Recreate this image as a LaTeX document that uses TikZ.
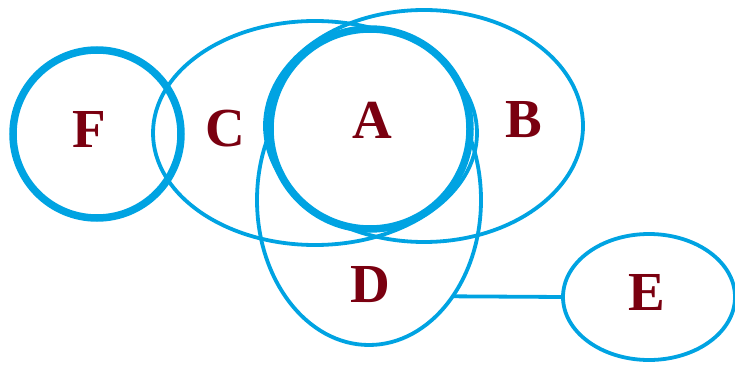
\documentclass[tikz,border=0pt]{standalone}
\usepackage{fontspec}
\setmainfont{Liberation Serif}
\usetikzlibrary{shapes.geometric}
\definecolor{setblue}{HTML}{00A3E2}
\definecolor{setred}{HTML}{7A0010}
\tikzset{
  setline/.style={draw=setblue, line width=3.8pt, ellipse, inner sep=0pt, outer sep=0pt},
  thickset/.style={setline, line width=7.5pt},
  lab/.style={text=setred, font=\fontsize{55}{55}\selectfont\bfseries, inner sep=0pt, anchor=center}
}
\begin{document}
\begin{tikzpicture}[x=1pt,y=-1pt]
\useasboundingbox (0,0) rectangle (735,366);
% sets
\node[setline, minimum width=324pt, minimum height=224pt] (Cset) at (315,133) {};
\node[setline, minimum width=318pt, minimum height=232pt] (Bset) at (424,126) {};
\node[setline, minimum width=224pt, minimum height=290pt] (Dset) at (369,200) {};
\node[thickset, fill=white, minimum width=200pt, minimum height=200pt] (Aset) at (370,129) {};
\node[thickset, minimum width=168pt, minimum height=168pt] (Fset) at (97,134) {};
\node[setline, minimum width=172pt, minimum height=126pt] (Eset) at (649,297) {};
% connector
\draw[setblue, line width=3.8pt] (Dset.-49.4) -- (Eset.west);
% labels
\node[lab] (F) at (89,129) {F};
\node[lab] (C) at (225,129) {C};
\node[lab] (A) at (372,120) {A};
\node[lab] (B) at (524,120) {B};
\node[lab] (D) at (370,285) {D};
\node[lab] (E) at (647,292) {E};
\end{tikzpicture}
\end{document}
